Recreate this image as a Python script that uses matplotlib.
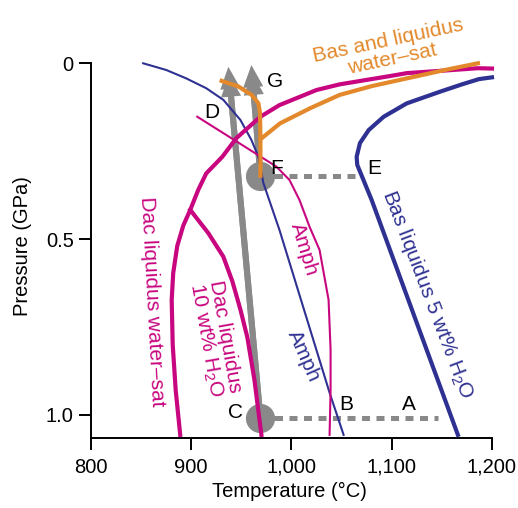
import matplotlib
matplotlib.use("Agg")
import matplotlib.pyplot as plt
from matplotlib.patches import FancyArrowPatch

plt.rcParams['font.family'] = ['Liberation Sans', 'DejaVu Sans']
plt.rcParams['mathtext.fontset'] = 'custom'
plt.rcParams['mathtext.rm'] = 'Liberation Sans'
plt.rcParams['mathtext.it'] = 'Liberation Sans:italic'

# colours
MAG = '#c8067f'
BLUE = '#2e3192'
ORANGE = '#e3892b'
GREY = '#898989'

# --- curves (temperature degC, pressure GPa) ---
# Dacite liquidus, water-saturated (thick magenta)
dac_sat_T = [1200, 1186, 1151, 1115, 1101, 1048, 1025, 988, 969, 945, 931, 915, 907, 899,
             892, 886, 882, 880.5, 881.5, 884.5, 889]
dac_sat_P = [0.015, 0.014, 0.021, 0.028, 0.035, 0.06, 0.076, 0.119, 0.152, 0.213, 0.266, 0.313,
             0.36, 0.417, 0.462, 0.52, 0.597, 0.673, 0.8, 0.93, 1.057]

# Dacite liquidus 10 wt% H2O (thick magenta branch)
dac10_T = [899, 917, 932, 941, 949, 956, 963, 970]
dac10_P = [0.417, 0.483, 0.55, 0.62, 0.70, 0.78, 0.90, 1.057]

# Dacite amphibole-out (thin magenta)
dac_amph_T = [906, 945, 985, 998, 1008, 1018, 1028, 1037, 1039, 1039, 1038]
dac_amph_P = [0.152, 0.222, 0.294, 0.332, 0.389, 0.465, 0.531, 0.673, 0.815, 0.93, 1.057]

# Basalt liquidus 5 wt% H2O (thick blue)
bas5_T = [1200, 1187, 1170, 1148, 1115, 1092, 1077, 1068.3, 1065, 1065.6, 1080, 1166]
bas5_P = [0.040, 0.045, 0.06, 0.081, 0.114, 0.152, 0.19, 0.227, 0.266, 0.289, 0.389, 1.057]

# Basalt amphibole-out (thin blue)
bas_amph_T = [852, 875, 895, 915, 932, 949, 960, 967, 972, 988, 1038, 1052]
bas_amph_P = [0.0, 0.019, 0.043, 0.071, 0.104, 0.161, 0.218, 0.266, 0.341, 0.474, 0.937, 1.057]

# Basalt and liquidus water-saturated (thick orange), two pieces
bas_sat_T = [969.5, 988.5, 1018.5, 1048, 1080, 1115, 1151.5, 1186]
bas_sat_P = [0.215, 0.171, 0.128, 0.09, 0.065, 0.043, 0.02, 0.0]
bas_sat2_T = [969, 969, 968.6, 967, 960.3, 947, 930.3]
bas_sat2_P = [0.32, 0.21, 0.142, 0.114, 0.09, 0.066, 0.05]

# grey paths
pt_C = (969, 1.01)
pt_F = (969, 0.32)
tip_left = (937, 0.01)
tip_right = (960, 0.005)
ca_T = [969, 1146]
ca_P = [1.01, 1.01]
fe_T = [969, 1065]
fe_P = [0.32, 0.32]

# point letters
letters = ['A', 'B', 'C', 'D', 'E', 'F', 'G']
letter_T = [1117.5, 1054.4, 944.6, 921, 1082.6, 985.2, 983.5]
letter_P = [0.971, 0.971, 0.993, 0.14, 0.299, 0.299, 0.052]

fig = plt.figure(figsize=(5.18, 5.08), dpi=100)
ax = fig.add_axes([91 / 518, (508 - 437.7) / 508, 411 / 518, 437.7 / 508])
ax.set_xlim(800, 1210)
ax.set_ylim(1.065, -0.18)

# grey arrows, circles, dotted lines (underneath)
for start, tip in [(pt_C, tip_left), (pt_F, tip_right)]:
    for back in [0.0, 0.022]:
        end = (tip[0] + (start[0] - tip[0]) * back / (start[1] - tip[1]), tip[1] + back)
        arr = FancyArrowPatch(start, end, arrowstyle='simple,head_length=1.1,head_width=1.0,tail_width=0.3',
                              mutation_scale=14.5, color=GREY, lw=0, zorder=1,
                              shrinkA=0, shrinkB=0)
        ax.add_patch(arr)

ax.plot(ca_T, ca_P, color=GREY, lw=3.6, dashes=(1.6, 1.3), dash_capstyle='butt', zorder=1)
ax.plot(fe_T, fe_P, color=GREY, lw=3.6, dashes=(1.6, 1.3), dash_capstyle='butt', zorder=1)
ax.plot([pt_C[0], pt_F[0]], [pt_C[1], pt_F[1]], 'o', ms=21, color=GREY, mec='none', zorder=1.5)

# curves
ax.plot(bas_amph_T, bas_amph_P, color=BLUE, lw=1.5, zorder=3)
ax.plot(dac_amph_T, dac_amph_P, color=MAG, lw=1.5, zorder=3)
ax.plot(bas5_T, bas5_P, color=BLUE, lw=3, zorder=3, solid_joinstyle='round')
ax.plot(dac_sat_T, dac_sat_P, color=MAG, lw=3, zorder=3, solid_joinstyle='round')
ax.plot(dac10_T, dac10_P, color=MAG, lw=3, zorder=3, solid_joinstyle='round')
ax.plot(bas_sat_T, bas_sat_P, color=ORANGE, lw=3, zorder=4, solid_joinstyle='round')
ax.plot(bas_sat2_T, bas_sat2_P, color=ORANGE, lw=3, zorder=4, solid_joinstyle='round')

for s, t, p in zip(letters, letter_T, letter_P):
    ax.text(t, p, s, fontsize=15, ha='center', va='center', zorder=5)

fs = 15
kw = dict(ha='center', va='center', rotation_mode='anchor', fontsize=fs, zorder=5)
ax.text(1098, -0.038, 'Bas and liquidus\nwater\u2013sat', color=ORANGE, rotation=12,
        linespacing=1.05, **kw)
ax.text(1135.7, 0.657, 'Bas liquidus 5 wt% H$_{\\mathrm{2}}$O', color=BLUE, rotation=-69, **kw)
ax.text(1012.5, 0.834, 'Amph', color=BLUE, rotation=-66, **kw)
ax.text(1012.5, 0.528, 'Amph', color=MAG, rotation=-73, **kw)
ax.text(860.8, 0.678, 'Dac liquidus water\u2013sat', color=MAG, rotation=-87, **kw)
ax.text(923.2, 0.781, 'Dac liquidus\n10 wt% H$_{\\mathrm{2}}$O', color=MAG, rotation=-80,
        linespacing=1.0, **kw)

# axes styling
for side in ['top', 'right']:
    ax.spines[side].set_visible(False)
ax.spines['left'].set_bounds(0, 1.065)
ax.spines['bottom'].set_bounds(800, 1200)
for side in ['left', 'bottom']:
    ax.spines[side].set_linewidth(1.4)
ax.set_xticks([800, 900, 1000, 1100, 1200])
ax.set_xticklabels(['800', '900', '1,000', '1,100', '1,200'])
ax.set_yticks([0, 0.5, 1.0])
ax.set_yticklabels(['0', '0.5', '1.0'])
ax.tick_params(direction='out', length=8.5, width=1.4, labelsize=14.5)
ax.tick_params(axis='y', pad=4)
ax.tick_params(axis='x', pad=6)
ax.set_xlabel('Temperature (\u00b0C)', fontsize=14.5)
ax.set_ylabel('Pressure (GPa)', fontsize=14.5)
ax.xaxis.set_label_coords(0.482, -0.1)
ax.yaxis.set_label_coords(-0.143, 0.438)

fig.savefig('out.png', dpi=100)
